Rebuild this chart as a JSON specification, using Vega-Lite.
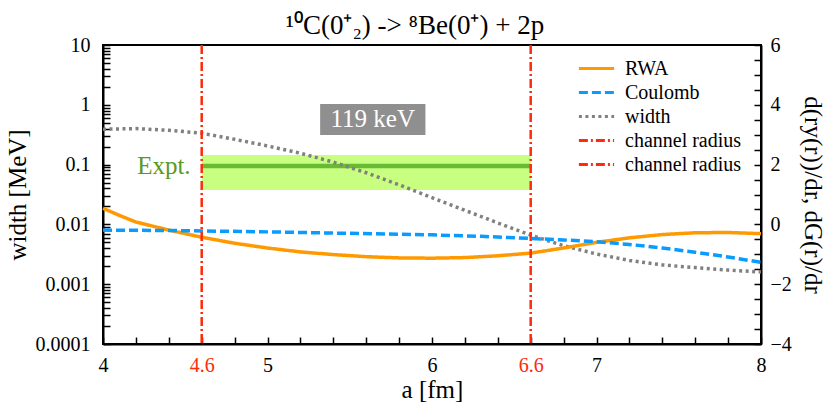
{
  "$schema": "https://vega.github.io/schema/vega-lite/v6.json",
  "width": 658,
  "height": 299,
  "autosize": "none",
  "padding": {"left": 103, "top": 45, "right": 69, "bottom": 71},
  "background": "white",
  "title": {"text": "¹⁰C(0⁺₂) -> ⁸Be(0⁺) + 2p", "anchor": "middle", "dx": -17, "offset": -5, "font": "Liberation Serif", "fontSize": 27, "fontWeight": "normal", "color": "black"},
  "datasets": {
    "curves": [
      {"a": 4.0, "series": "width", "value": 0.39},
      {"a": 4.2, "series": "width", "value": 0.40},
      {"a": 4.4, "series": "width", "value": 0.375},
      {"a": 4.6, "series": "width", "value": 0.335},
      {"a": 4.8, "series": "width", "value": 0.265},
      {"a": 5.0, "series": "width", "value": 0.205},
      {"a": 5.2, "series": "width", "value": 0.155},
      {"a": 5.4, "series": "width", "value": 0.11},
      {"a": 5.6, "series": "width", "value": 0.073},
      {"a": 5.8, "series": "width", "value": 0.046},
      {"a": 6.0, "series": "width", "value": 0.028},
      {"a": 6.2, "series": "width", "value": 0.0172},
      {"a": 6.4, "series": "width", "value": 0.0106},
      {"a": 6.6, "series": "width", "value": 0.0066},
      {"a": 6.8, "series": "width", "value": 0.0044},
      {"a": 7.0, "series": "width", "value": 0.0032},
      {"a": 7.2, "series": "width", "value": 0.0025},
      {"a": 7.4, "series": "width", "value": 0.0021},
      {"a": 7.6, "series": "width", "value": 0.0019},
      {"a": 7.8, "series": "width", "value": 0.00172},
      {"a": 8.0, "series": "width", "value": 0.0016},
      {"a": 4.0, "series": "RWA", "value": 0.54},
      {"a": 4.1, "series": "RWA", "value": 0.3},
      {"a": 4.2, "series": "RWA", "value": 0.08},
      {"a": 4.4, "series": "RWA", "value": -0.19},
      {"a": 4.6, "series": "RWA", "value": -0.43},
      {"a": 4.8, "series": "RWA", "value": -0.63},
      {"a": 5.0, "series": "RWA", "value": -0.79},
      {"a": 5.2, "series": "RWA", "value": -0.92},
      {"a": 5.4, "series": "RWA", "value": -1.01},
      {"a": 5.6, "series": "RWA", "value": -1.08},
      {"a": 5.8, "series": "RWA", "value": -1.12},
      {"a": 6.0, "series": "RWA", "value": -1.13},
      {"a": 6.2, "series": "RWA", "value": -1.11},
      {"a": 6.4, "series": "RWA", "value": -1.05},
      {"a": 6.6, "series": "RWA", "value": -0.96},
      {"a": 6.8, "series": "RWA", "value": -0.79},
      {"a": 7.0, "series": "RWA", "value": -0.6},
      {"a": 7.2, "series": "RWA", "value": -0.45},
      {"a": 7.4, "series": "RWA", "value": -0.34},
      {"a": 7.6, "series": "RWA", "value": -0.28},
      {"a": 7.8, "series": "RWA", "value": -0.27},
      {"a": 8.0, "series": "RWA", "value": -0.31},
      {"a": 4.0, "series": "Coulomb", "value": -0.19},
      {"a": 4.5, "series": "Coulomb", "value": -0.21},
      {"a": 5.0, "series": "Coulomb", "value": -0.25},
      {"a": 5.5, "series": "Coulomb", "value": -0.3},
      {"a": 6.0, "series": "Coulomb", "value": -0.35},
      {"a": 6.3, "series": "Coulomb", "value": -0.4},
      {"a": 6.6, "series": "Coulomb", "value": -0.47},
      {"a": 6.8, "series": "Coulomb", "value": -0.52},
      {"a": 7.0, "series": "Coulomb", "value": -0.58},
      {"a": 7.2, "series": "Coulomb", "value": -0.67},
      {"a": 7.4, "series": "Coulomb", "value": -0.79},
      {"a": 7.6, "series": "Coulomb", "value": -0.93},
      {"a": 7.8, "series": "Coulomb", "value": -1.09},
      {"a": 8.0, "series": "Coulomb", "value": -1.27}
    ],
    "radius": [
      {"a": 4.6, "series": "ch1"},
      {"a": 6.6, "series": "ch2"}
    ],
    "expt": [
      {"a_min": 4.6, "a_max": 6.6, "width": 0.095, "low": 0.0376, "high": 0.145, "label": "119 keV"}
    ]
  },
  "encoding": {
    "x": {
      "type": "quantitative", "title": "a [fm]",
      "scale": {"domain": [4, 8], "nice": false, "zero": false},
      "axis": {
        "values": [4, 4.2, 4.4, 4.6, 4.8, 5, 5.2, 5.4, 5.6, 5.8, 6, 6.2, 6.4, 6.6, 6.8, 7, 7.2, 7.4, 7.6, 7.8, 8],
        "format": "~g",
        "labelExpr": "datum.value == round(datum.value) || datum.value == 4.6 || datum.value == 6.6 ? datum.label : ''",
        "labelColor": {"condition": {"test": "datum.value == 4.6 || datum.value == 6.6", "value": "#ff2a0a"}, "value": "black"},
        "labelOverlap": false,
        "labelFlush": false,
        "tickSize": -7,
        "labelPadding": 18,
        "titlePadding": 2
      }
    }
  },
  "layer": [
    {
      "data": {"name": "expt"},
      "mark": {"type": "rect", "color": "#c8ff80"},
      "encoding": {
        "x": {"field": "a_min"},
        "x2": {"field": "a_max"},
        "y": {"field": "low", "type": "quantitative", "scale": {"type": "log", "domain": [0.0001, 10]}, "axis": null},
        "y2": {"field": "high"}
      }
    },
    {
      "data": {"name": "expt"},
      "mark": {"type": "rule", "color": "#66bb33", "strokeWidth": 4.5},
      "encoding": {
        "x": {"field": "a_min"},
        "x2": {"field": "a_max"},
        "y": {"field": "width", "type": "quantitative", "scale": {"type": "log", "domain": [0.0001, 10]}, "axis": null}
      }
    },
    {
      "data": {"name": "expt"},
      "mark": {"type": "rect", "color": "#8f8f8f"},
      "encoding": {
        "x": {"datum": 5.32},
        "x2": {"datum": 5.96},
        "y": {"datum": 0.313, "type": "quantitative", "scale": {"type": "log", "domain": [0.0001, 10]}, "axis": null},
        "y2": {"datum": 1.03}
      }
    },
    {
      "data": {"name": "expt"},
      "mark": {"type": "text", "color": "white", "font": "Liberation Serif", "fontSize": 25, "baseline": "middle", "align": "center"},
      "encoding": {
        "x": {"datum": 5.64},
        "y": {"datum": 0.57, "type": "quantitative", "scale": {"type": "log", "domain": [0.0001, 10]}, "axis": null},
        "text": {"field": "label"}
      }
    },
    {
      "data": {"name": "expt"},
      "mark": {"type": "text", "color": "#5a9a1a", "font": "Liberation Serif", "fontSize": 25, "baseline": "middle", "align": "center"},
      "encoding": {
        "x": {"datum": 4.37},
        "y": {"datum": 0.095, "type": "quantitative", "scale": {"type": "log", "domain": [0.0001, 10]}, "axis": null},
        "text": {"value": "Expt."}
      }
    },
    {
      "data": {"name": "curves"},
      "transform": [{"filter": "datum.series == 'width'"}],
      "mark": {"type": "line", "strokeWidth": 3.5},
      "encoding": {
        "x": {"field": "a"},
        "y": {
          "field": "value", "type": "quantitative", "title": "width [MeV]",
          "scale": {"type": "log", "domain": [0.0001, 10]},
          "axis": {
            "orient": "left",
            "values": [0.0001, 0.0002, 0.0003, 0.0004, 0.0005, 0.0006, 0.0007, 0.0008, 0.0009, 0.001, 0.002, 0.003, 0.004, 0.005, 0.006, 0.007, 0.008, 0.009, 0.01, 0.02, 0.03, 0.04, 0.05, 0.06, 0.07, 0.08, 0.09, 0.1, 0.2, 0.3, 0.4, 0.5, 0.6, 0.7, 0.8, 0.9, 1, 2, 3, 4, 5, 6, 7, 8, 9, 10],
            "format": "~g",
            "labelExpr": "abs(log(datum.value) / LN10 - round(log(datum.value) / LN10)) < 0.001 ? datum.label : ''",
            "labelOverlap": false,
            "tickSize": -7,
            "labelPadding": 20,
            "titlePadding": 5
          }
        },
        "color": {
          "field": "series", "type": "nominal",
          "scale": {"domain": ["RWA", "Coulomb", "width", "ch1", "ch2"], "range": ["#ff9900", "#0a9bff", "#808080", "#ff2a0a", "#ff2a0a"]},
          "legend": {"orient": "none", "legendX": 481, "legendY": 11, "title": null, "padding": 0, "labelExpr": "datum.label == 'ch1' || datum.label == 'ch2' ? 'channel radius' : datum.label", "symbolType": "M-1.6,0H1.6", "symbolSize": 484, "symbolStrokeWidth": 3, "rowPadding": 1, "labelOffset": 16, "labelFont": "Liberation Serif", "labelFontSize": 20, "labelColor": "black"}
        },
        "strokeDash": {
          "field": "series", "type": "nominal",
          "scale": {"domain": ["RWA", "Coulomb", "width", "ch1", "ch2"], "range": [[1, 0], [9, 4], [3, 3.5], [9, 3, 2, 3], [9, 3, 2, 3]]},
          "legend": {"orient": "none", "legendX": 481, "legendY": 11, "title": null, "padding": 0, "labelExpr": "datum.label == 'ch1' || datum.label == 'ch2' ? 'channel radius' : datum.label", "symbolType": "M-1.6,0H1.6", "symbolSize": 484, "symbolStrokeWidth": 3, "rowPadding": 1, "labelOffset": 16, "labelFont": "Liberation Serif", "labelFontSize": 20, "labelColor": "black"}
        }
      }
    },
    {
      "data": {"name": "curves"},
      "transform": [{"filter": "datum.series == 'RWA' || datum.series == 'Coulomb'"}],
      "mark": {"type": "line", "strokeWidth": 3.5},
      "encoding": {
        "x": {"field": "a"},
        "y": {
          "field": "value", "type": "quantitative", "title": "d(ry(r))/dr, dG(r)/dr",
          "scale": {"domain": [-4, 6], "nice": false, "zero": false},
          "axis": {
            "orient": "right",
            "values": [-4, -3.5, -3, -2.5, -2, -1.5, -1, -0.5, 0, 0.5, 1, 1.5, 2, 2.5, 3, 3.5, 4, 4.5, 5, 5.5, 6],
            "format": "~g",
            "labelExpr": "datum.value % 2 == 0 ? datum.label : ''",
            "labelOverlap": false,
            "tickSize": -7,
            "labelPadding": 16,
            "titlePadding": 8
          }
        },
        "color": {"field": "series", "type": "nominal"},
        "strokeDash": {"field": "series", "type": "nominal"}
      }
    },
    {
      "data": {"name": "radius"},
      "mark": {"type": "rule", "strokeWidth": 2.5},
      "encoding": {
        "x": {"field": "a"},
        "color": {"field": "series", "type": "nominal"},
        "strokeDash": {"field": "series", "type": "nominal"}
      }
    }
  ],
  "resolve": {"scale": {"y": "independent"}, "axis": {"y": "independent"}},
  "config": {
    "view": {"stroke": "black", "strokeWidth": 2},
    "axis": {
      "grid": false,
      "domainColor": "black",
      "domainWidth": 2,
      "tickColor": "black",
      "tickWidth": 1.5,
      "labelFont": "Liberation Serif",
      "labelFontSize": 20,
      "labelColor": "black",
      "titleFont": "Liberation Serif",
      "titleFontSize": 25,
      "titleFontWeight": "normal",
      "titleColor": "black"
    }
  }
}
